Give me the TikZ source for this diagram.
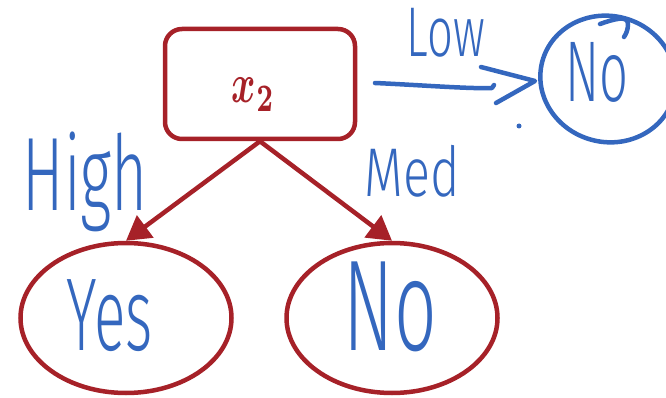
\documentclass[tikz,border=0pt]{standalone}
\usepackage{fontspec}
\newfontfamily\handfont{Fira Sans Light}
\usetikzlibrary{arrows.meta,shapes.geometric}
\definecolor{treered}{RGB}{166,33,40}
\definecolor{inkblue}{RGB}{52,103,190}
% a word stretched into a box of the given width and total height (pt)
\newcommand{\inkword}[3]{\resizebox*{#1pt}{#2pt}{\handfont #3}}
\begin{document}
\begin{tikzpicture}[x=1pt,y=-1pt,
  treebox/.style={draw=treered, line width=4.5pt, rounded corners=17pt,
    minimum width=190pt, minimum height=110pt, inner sep=0pt},
  leaf/.style={draw=treered, line width=4.5pt, ellipse,
    minimum width=211pt, minimum height=150pt, inner sep=0pt},
  branch/.style={draw=treered, line width=4.5pt,
    -{Triangle[length=24pt,width=27pt]}},
  ink/.style={text=inkblue, inner sep=0pt, outer sep=0pt},
  inkline/.style={draw=inkblue, line width=4.5pt, line cap=round, line join=round},
]
\useasboundingbox (0,0) rectangle (666,398);

% decision node and its two leaves
\node[treebox] (root) at (260,84) {};
\node[text=treered, inner sep=0pt] (rootlabel) at (253.5,94.5)
  {\resizebox*{43pt}{33pt}{\boldmath$x_2$}};
\node[leaf] (yes) at (126,318) {};
\node[leaf] (medno) at (392,318) {};

\draw[branch] (root.south) -- (yes.north);
\draw[branch] (root.south) -- (medno.north);

% handwritten branch labels and leaf values
\node[ink] (high) at (85.5,182) {\inkword{125}{100}{High}};
\node[ink] (med) at (412.5,171) {\inkword{95}{52}{Med}};
\node[ink] (yestext) at (110,316) {\inkword{86}{72}{Yes}};
\node[ink] (notext) at (390.5,307) {\inkword{93}{90}{No}};

% the "Low" branch sketched in ink
\node[ink] (low) at (446,32.5) {\inkword{78}{49}{Low}};
\node[draw=inkblue, line width=4.5pt, ellipse, minimum width=136pt,
  minimum height=126pt, inner sep=0pt, rotate=-15] (lowno) at (608,79) {};
\draw[inkline] (600,24) .. controls (614,19) and (628,15) .. (628,24)
  .. controls (628,30) and (626,34) .. (624,37);
\node[ink] (lownotext) at (596.5,72) {\inkword{63}{60}{No}};

\coordinate (lowfrom) at (375,83);
\coordinate (lowto) at (492,88);
\draw[inkline] (lowfrom) .. controls (420,85) and (470,89) .. (lowto) -- (494,85);
\coordinate (chevA) at (481,67);
\coordinate (chevtip) at (535,81);
\coordinate (chevB) at (496,103);
\draw[inkline] (chevA) -- (chevtip) -- (chevB);
\fill[inkblue] (519,126) circle (2.5pt);
\end{tikzpicture}
\end{document}
